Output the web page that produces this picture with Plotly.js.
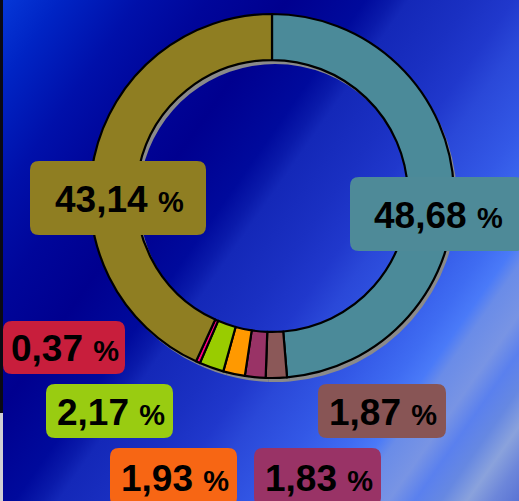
<!DOCTYPE html>
<html>
<head>
<meta charset="utf-8">
<script src="https://cdn.plot.ly/plotly-3.0.1.min.js"></script>
<style>
  html, body { margin: 0; padding: 0; }
  body {
    width: 519px; height: 501px; overflow: hidden;
    background:
      linear-gradient(to bottom, #0a0a14 0, #0a0a14 413px, #cfcfd4 413px) 0 0 / 3px 100% no-repeat,
      linear-gradient(125deg,
        #0638d8 0%, #0024c4 7%, #0010aa 16%, #00069a 24%, #00008f 33%,
        #000a9c 42%, #0a1aaa 45%, #1428b8 47%, #1a30c2 54%, #2038cc 59%,
        #2a48d8 63%, #3358e6 70%, #3f6cf2 76%, #4a7af8 79%, #6a8ce8 81%,
        #7894e4 85%, #5a80ee 88%, #6688e2 91%, #8aa2dc 94%, #6c86da 97%, #5a74d4 100%);
  }
  #chart { width: 519px; height: 501px; }
</style>
</head>
<body>
<div id="chart"></div>
<script>
// ---- data (clockwise from 12 o'clock) ----
const sliceNames  = ["A", "B", "C", "D", "E", "F", "G"];
const sliceValues = [48.68, 1.87, 1.83, 1.93, 2.17, 0.37, 43.14];
const sliceColors = ["#4b8a99", "#8b5858", "#993366", "#ff9900", "#99cc00", "#ff0080", "#8f7e22"];
const boxColors   = ["#4e8a98", "#885555", "#993366", "#f76614", "#99cc11", "#c81e3c", "#8f7e22"];

// ---- layout helpers (pixel boxes for the value labels) ----
const W = 519, H = 501;
const labelBoxes = [
  [350, 177, 524, 251],
  [318, 384, 446, 438],
  [254, 448, 381, 506],
  [110, 448, 237, 506],
  [ 46, 384, 173, 438],
  [  3, 321, 125, 374],
  [ 30, 161, 206, 235]
];
const ringPx = {x0: 90, x1: 454, y0: 14, y1: 378};
const shadowOffset = {dx: 3, dy: 4};

function px(x) { return x / W; }
function py(y) { return 1 - y / H; }

function roundRect(b, r) {
  const [x0, y0, x1, y1] = b;
  const P = (x, y) => px(x) + "," + py(y);
  return "M" + P(x0 + r, y0) +
    " L" + P(x1 - r, y0) + " Q" + P(x1, y0) + " " + P(x1, y0 + r) +
    " L" + P(x1, y1 - r) + " Q" + P(x1, y1) + " " + P(x1 - r, y1) +
    " L" + P(x0 + r, y1) + " Q" + P(x0, y1) + " " + P(x0, y1 - r) +
    " L" + P(x0, y0 + r) + " Q" + P(x0, y0) + " " + P(x0 + r, y0) + " Z";
}

function fmt(v) { return v.toFixed(2).replace(".", ","); }

const shadow = {
  type: "pie",
  values: sliceValues,
  labels: sliceNames,
  sort: false,
  direction: "clockwise",
  rotation: 0,
  hole: 0.747,
  textinfo: "none",
  hoverinfo: "skip",
  marker: { colors: sliceValues.map(() => "#8a8a8a"), line: { width: 0 } },
  domain: {
    x: [px(ringPx.x0 + shadowOffset.dx), px(ringPx.x1 + shadowOffset.dx)],
    y: [py(ringPx.y1 + shadowOffset.dy), py(ringPx.y0 + shadowOffset.dy)]
  },
  showlegend: false
};

const ring = {
  type: "pie",
  values: sliceValues,
  labels: sliceNames,
  sort: false,
  direction: "clockwise",
  rotation: 0,
  hole: 0.747,
  textinfo: "none",
  hoverinfo: "skip",
  marker: { colors: sliceColors, line: { color: "#000000", width: 2.2 } },
  domain: {
    x: [px(ringPx.x0), px(ringPx.x1)],
    y: [py(ringPx.y1), py(ringPx.y0)]
  },
  showlegend: false
};

const shapes = labelBoxes.map((b, i) => ({
  type: "path", xref: "paper", yref: "paper",
  path: roundRect(b, 9),
  fillcolor: boxColors[i],
  line: { width: 0 },
  layer: "above"
}));

const annotations = labelBoxes.map((b, i) => ({
  xref: "paper", yref: "paper",
  x: px((b[0] + b[2]) / 2 + 1), y: py((b[1] + b[3]) / 2 + 1),
  xanchor: "center", yanchor: "middle",
  showarrow: false,
  text: "<b>" + fmt(sliceValues[i]) + " <span style=\"font-size:29px\">%</span></b>",
  font: { family: "Liberation Sans, Arial, sans-serif", size: 37, color: "#000000" }
}));

const layout = {
  width: W, height: H,
  margin: { l: 0, r: 0, t: 0, b: 0 },
  paper_bgcolor: "rgba(0,0,0,0)",
  plot_bgcolor: "rgba(0,0,0,0)",
  showlegend: false,
  shapes: shapes,
  annotations: annotations
};

Plotly.newPlot("chart", [shadow, ring], layout, { staticPlot: true, displayModeBar: false });
</script>
</body>
</html>
